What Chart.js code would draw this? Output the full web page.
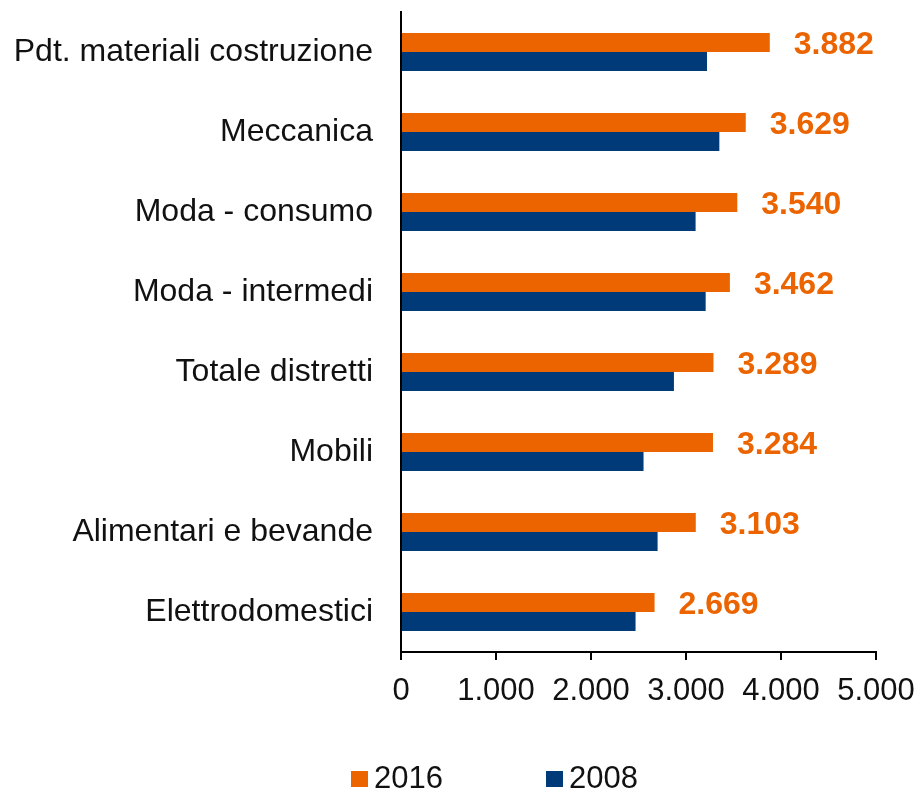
<!DOCTYPE html>
<html>
<head>
<meta charset="utf-8">
<script src="https://cdn.jsdelivr.net/npm/chart.js@4"></script>
<style>
  html, body { margin: 0; padding: 0; background: #fff; }
  #wrap { width: 918px; height: 791px; }
</style>
</head>
<body>
<div id="wrap"><canvas id="chart" width="918" height="791"></canvas></div>
<script>
// dati
const categories = [
  'Pdt. materiali costruzione',
  'Meccanica',
  'Moda - consumo',
  'Moda - intermedi',
  'Totale distretti',
  'Mobili',
  'Alimentari e bevande',
  'Elettrodomestici'
];
const seriesNames = ['2016', '2008'];
const values2016 = [3882, 3629, 3540, 3462, 3289, 3284, 3103, 2669];
const values2008 = [3221, 3351, 3101, 3207, 2873, 2553, 2701, 2469];
const xTicks = [0, 1000, 2000, 3000, 4000, 5000];

const ORANGE = '#EB6400';
const NAVY = '#003A78';
const FONT = "'Liberation Sans', Arial, sans-serif";

// separatore migliaia con punto
function fmt(v) {
  return String(v).replace(/\B(?=(\d{3})+(?!\d))/g, '.');
}

// etichette valore sulle barre 2016
const valueLabels = {
  id: 'valueLabels',
  afterDatasetsDraw(chart) {
    const ctx = chart.ctx;
    const meta = chart.getDatasetMeta(0);
    ctx.save();
    ctx.font = 'bold 32px ' + FONT;
    ctx.fillStyle = ORANGE;
    ctx.textAlign = 'left';
    ctx.textBaseline = 'middle';
    meta.data.forEach((bar, i) => {
      ctx.fillText(fmt(chart.data.datasets[0].data[i]), bar.x + 24, bar.y + 3);
    });
    ctx.restore();
  }
};

// legenda in basso
const bottomLegend = {
  id: 'bottomLegend',
  afterDraw(chart) {
    const ctx = chart.ctx;
    const xs = [351, 546];
    ctx.save();
    ctx.font = '31px ' + FONT;
    ctx.textBaseline = 'middle';
    ctx.textAlign = 'left';
    chart.data.datasets.forEach((ds, i) => {
      ctx.fillStyle = ds.backgroundColor;
      ctx.fillRect(xs[i], 771, 17, 16);
      ctx.fillStyle = '#111';
      ctx.fillText(ds.label, xs[i] + 23, 779);
    });
    ctx.restore();
  }
};

new Chart(document.getElementById('chart'), {
  type: 'bar',
  data: {
    labels: categories,
    datasets: [
      { label: seriesNames[0], data: values2016, backgroundColor: ORANGE },
      { label: seriesNames[1], data: values2008, backgroundColor: NAVY }
    ]
  },
  options: {
    indexAxis: 'y',
    responsive: false,
    animation: false,
    devicePixelRatio: 1,
    categoryPercentage: 0.475,
    barPercentage: 1,
    layout: { padding: { top: 12, left: 0, right: 42, bottom: 79 } },
    plugins: {
      legend: { display: false },
      tooltip: { enabled: false }
    },
    scales: {
      x: {
        min: 0,
        max: 5000,
        afterBuildTicks: (scale) => { scale.ticks = xTicks.map(v => ({ value: v })); },
        afterFit: (scale) => {
          scale.height = 60;
          scale.paddingLeft = 0;
          scale.paddingRight = 0;
        },
        ticks: {
          color: '#111',
          font: { size: 31, family: FONT },
          padding: 13,
          maxRotation: 0,
          callback: (v) => fmt(v)
        },
        grid: { drawOnChartArea: false, drawTicks: true, tickLength: 8, color: '#000', lineWidth: 2 },
        border: { display: true, color: '#000', width: 2 }
      },
      y: {
        afterFit: (scale) => {
          scale.width = 401;
          scale.paddingTop = 0;
          scale.paddingBottom = 0;
        },
        ticks: {
          color: '#111',
          font: { size: 32, family: FONT },
          padding: 20
        },
        grid: { display: false },
        border: { display: true, color: '#000', width: 2 }
      }
    }
  },
  plugins: [valueLabels, bottomLegend]
});
</script>
</body>
</html>
